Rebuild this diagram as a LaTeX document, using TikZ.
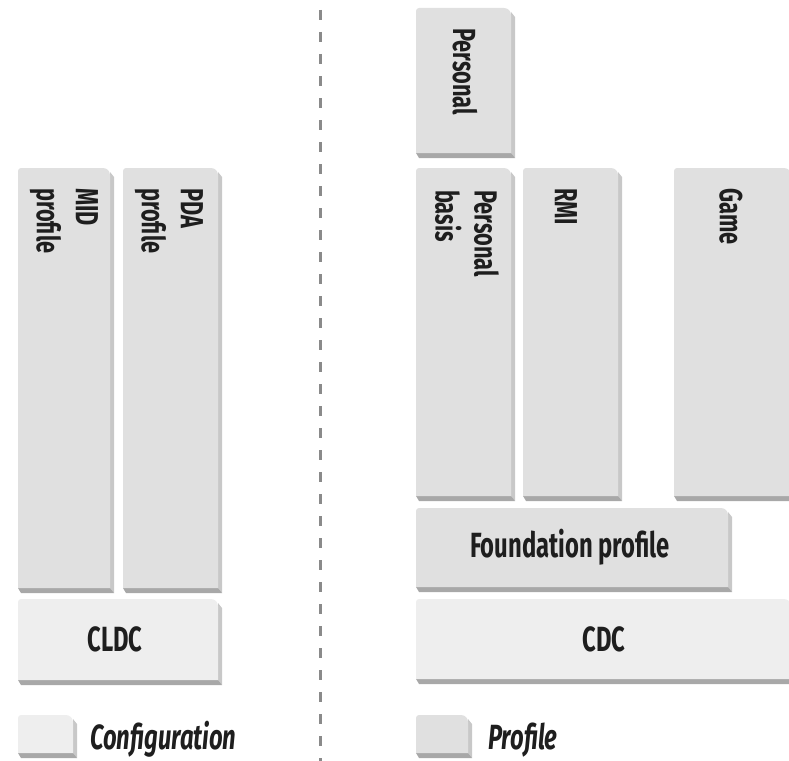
\documentclass[tikz,border=0pt]{standalone}
\usepackage{fontspec}
\setmainfont{Fira Sans}[FakeStretch=0.68]
\definecolor{cfgface}{HTML}{EEEEEE}
\definecolor{proface}{HTML}{E0E0E0}
\definecolor{botshade}{HTML}{A8A8A8}
\definecolor{rshade}{HTML}{C8C8C8}
\definecolor{ink}{HTML}{1E1E1E}
\definecolor{dashc}{HTML}{8A8A8A}
\newcommand\diagblock[5]{% x1 y1 x2 y2 face
  \fill[rshade] ({#3-4},{#2+4}) -- (#3,{#2+9}) -- (#3,#4) -- ({#3-4},{#4-5}) -- cycle;
  \fill[botshade] (#1,{#4-5}) -- ({#3-4},{#4-5}) -- (#3,#4) -- ({#1+3},#4) -- cycle;
  \fill[#5] (#1,{#4-5}) [rounded corners=3] -- (#1,#2) [rounded corners=7] -- ({#3-4},#2) [sharp corners] -- ({#3-4},{#4-5}) -- cycle;
}
\tikzset{
  lab/.style={text=ink, font=\fontsize{35}{40}\selectfont\bfseries, inner sep=0pt},
  vlab/.style={text=ink, font=\fontsize{32}{39}\selectfont\bfseries, inner sep=0pt, rotate=-90, anchor=west, align=left},
  leg/.style={text=ink, font=\fontsize{35}{40}\selectfont\bfseries\itshape, inner sep=0pt, anchor=base west}
}
\begin{document}
\begin{tikzpicture}[x=1pt,y=-1pt]
\useasboundingbox (0,0) rectangle (789,760);
% separator
\coordinate (dtop) at (320,10);
\coordinate (dbot) at (320,762);
\draw[dashc, line width=3pt, dash pattern=on 10pt off 12pt] (dtop) -- (dbot);
% left side
\diagblock{18}{168}{114}{593}{proface}
\diagblock{123}{168}{222}{593}{proface}
\diagblock{18}{599}{222}{685}{cfgface}
% right side
\diagblock{416}{8}{515}{158}{proface}
\diagblock{416}{168}{515}{501}{proface}
\diagblock{523}{168}{622}{501}{proface}
\diagblock{674}{168}{795}{501}{proface}
\diagblock{416}{508}{732}{592}{proface}
\diagblock{416}{599}{795}{684}{cfgface}
% legend
\diagblock{18}{715}{77}{758}{cfgface}
\diagblock{416}{715}{472}{758}{proface}
% labels
\node[vlab] (mid) at (64,188) {MID\\profile};
\node[vlab] (pda) at (169,188) {PDA\\profile};
\node[vlab] (personal) at (465,28) {Personal};
\node[vlab] (pbasis) at (467,190) {Personal\\basis};
\node[vlab] (rmi) at (566,188) {RMI};
\node[vlab] (game) at (731,188) {Game};
\node[lab, anchor=base] (cldc) at (115,651) {CLDC};
\node[lab, anchor=base] (found) at (570,557) {Foundation profile};
\node[lab, anchor=base] (cdc) at (604,651) {CDC};
\node[leg] (cfg) at (90,749) {Configuration};
\node[leg] (prof) at (488,749) {Profile};
\end{tikzpicture}
\end{document}
